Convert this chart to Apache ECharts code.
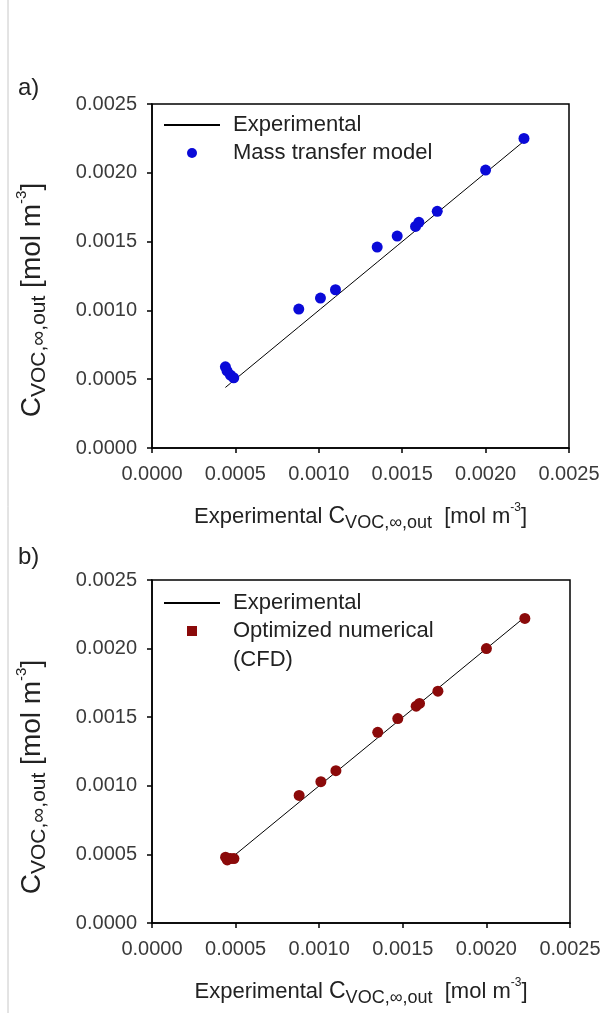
<!DOCTYPE html>
<html>
<head>
<meta charset="utf-8">
<script src="https://cdn.jsdelivr.net/npm/echarts@6/dist/echarts.min.js"></script>
<style>
  html, body { margin: 0; padding: 0; background: #fff; }
  #chart { width: 613px; height: 1013px; }
</style>
</head>
<body>
<div id="chart"></div>
<script>
// ---- data ----
const experimental = [0.00044, 0.00045, 0.00047, 0.00049, 0.00088, 0.00101, 0.00110, 0.00135, 0.00147, 0.00158, 0.00160, 0.00171, 0.00200, 0.00223];
const massTransfer = [0.00059, 0.00056, 0.00053, 0.00051, 0.00101, 0.00109, 0.00115, 0.00146, 0.00154, 0.00161, 0.00164, 0.00172, 0.00202, 0.00225];
const cfd          = [0.00048, 0.00046, 0.00047, 0.00047, 0.00093, 0.00103, 0.00111, 0.00139, 0.00149, 0.00158, 0.00160, 0.00169, 0.00200, 0.00222];
const axisMin = 0, axisMax = 0.0025, axisStep = 0.0005;
const panelLabels = ['a)', 'b)'];
const seriesNames = ['Experimental', 'Mass transfer model', 'Optimized numerical (CFD)'];
const legendLines = { 'Optimized numerical (CFD)': ['Optimized numerical', '(CFD)'] };

const FONT = 'Liberation Sans, Arial, sans-serif';
const pair = (xs, ys) => xs.map((x, i) => [x, ys[i]]);

const richX = {
  a: { fontFamily: FONT, fontSize: 22, lineHeight: 30, color: '#222', fill: '#222' },
  c: { fontFamily: FONT, fontSize: 23, lineHeight: 30, color: '#222', fill: '#222' },
  s: { fontFamily: FONT, fontSize: 18, verticalAlign: 'bottom', color: '#222', fill: '#222' },
  p: { fontFamily: FONT, fontSize: 12, verticalAlign: 'top', color: '#222', fill: '#222' }
};
const richY = {
  a: { fontFamily: FONT, fontSize: 28, lineHeight: 36, fill: '#222' },
  c: { fontFamily: FONT, fontSize: 28, lineHeight: 36, fill: '#222' },
  s: { fontFamily: FONT, fontSize: 21, verticalAlign: 'bottom', fill: '#222' },
  p: { fontFamily: FONT, fontSize: 15, verticalAlign: 'top', fill: '#222' }
};
const xTitle = '{a|Experimental }{c|C}{s|VOC,∞,out}{a|  [mol m}{p|-3}{a|]}';
const yTitle = '{c|C}{s|VOC,∞,out}{a| [mol m}{p|-3}{a|]}';

function valueAxis(gridIndex, isX) {
  const ax = {
    type: 'value', gridIndex, min: axisMin, max: axisMax, interval: axisStep,
    axisLine: { show: true, lineStyle: { color: '#000', width: 1.5 } },
    axisTick: { show: true, inside: false, length: 5, lineStyle: { color: '#000', width: 1.5 } },
    splitLine: { show: false },
    axisLabel: {
      formatter: v => v.toFixed(4), fontFamily: FONT, fontSize: 20, color: '#3a3a3a',
      margin: isX ? 16 : 15
    }
  };
  if (isX) {
    ax.name = xTitle; ax.nameLocation = 'middle'; ax.nameGap = 54;
    ax.nameTextStyle = { fontFamily: FONT, color: '#222', rich: richX };
  }
  return ax;
}

function legendFor(top, names) {
  return {
    orient: 'vertical', left: 164, top, padding: 0, itemWidth: 56, itemHeight: 10, itemGap: 0,
    textStyle: { fontFamily: FONT, fontSize: 22, lineHeight: 28, color: '#222', padding: [0, 0, 0, 8] },
    formatter: n => (legendLines[n] ? legendLines[n][0] : n),
    data: names
  };
}
const lineIcon = 'path://M0,0L56,0L56,2L0,2Z';
const squareIcon = 'path://M0,0L10,0L10,10L0,10Z';

const option = {
  animation: false,
  textStyle: { fontFamily: FONT },
  grid: [
    { left: 152, top: 104, width: 417, height: 344, show: true, borderColor: '#000', borderWidth: 1.5, backgroundColor: 'transparent' },
    { left: 152, top: 580, width: 418, height: 343, show: true, borderColor: '#000', borderWidth: 1.5, backgroundColor: 'transparent' }
  ],
  xAxis: [valueAxis(0, true), valueAxis(1, true)],
  yAxis: [valueAxis(0, false), valueAxis(1, false)],
  legend: [
    legendFor(111, [{ name: seriesNames[0], icon: lineIcon }, { name: seriesNames[1], icon: 'circle' }]),
    legendFor(589, [{ name: seriesNames[0], icon: lineIcon }, { name: seriesNames[2], icon: squareIcon }])
  ],
  series: [
    { name: seriesNames[0], type: 'line', xAxisIndex: 0, yAxisIndex: 0, data: pair(experimental, experimental),
      symbol: 'none', lineStyle: { color: '#000', width: 1 }, itemStyle: { color: '#000' }, z: 2 },
    { name: seriesNames[1], type: 'scatter', xAxisIndex: 0, yAxisIndex: 0, data: pair(experimental, massTransfer),
      symbol: 'circle', symbolSize: 11, itemStyle: { color: '#0a0ad8', opacity: 1 }, z: 3 },
    { name: seriesNames[0], type: 'line', xAxisIndex: 1, yAxisIndex: 1, data: pair(experimental, experimental),
      symbol: 'none', lineStyle: { color: '#000', width: 1 }, itemStyle: { color: '#000' }, z: 2 },
    { name: seriesNames[2], type: 'scatter', xAxisIndex: 1, yAxisIndex: 1, data: pair(experimental, cfd),
      symbol: 'circle', symbolSize: 11, itemStyle: { color: '#8b0a0a', opacity: 1 }, z: 3 }
  ],
  graphic: [
    { type: 'line', shape: { x1: 8, y1: 0, x2: 8, y2: 1013 }, style: { stroke: '#c8c8c8', lineWidth: 1 } },
    { type: 'text', x: 18, y: 88, style: { text: panelLabels[0], fontFamily: FONT, fontSize: 24, fill: '#222', align: 'left', verticalAlign: 'middle' } },
    { type: 'text', x: 18, y: 557, style: { text: panelLabels[1], fontFamily: FONT, fontSize: 24, fill: '#222', align: 'left', verticalAlign: 'middle' } },
    { type: 'text', x: 233, y: 660, style: { text: legendLines[seriesNames[2]][1], fontFamily: FONT, fontSize: 22, fill: '#222', align: 'left', verticalAlign: 'middle' } },
    { type: 'text', x: 32, y: 300, rotation: Math.PI / 2,
      style: { text: yTitle, rich: richY, fontFamily: FONT, fill: '#222', align: 'center', verticalAlign: 'middle' } },
    { type: 'text', x: 32, y: 777, rotation: Math.PI / 2,
      style: { text: yTitle, rich: richY, fontFamily: FONT, fill: '#222', align: 'center', verticalAlign: 'middle' } }
  ]
};

const chart = echarts.init(document.getElementById('chart'), null, { renderer: 'canvas' });
chart.setOption(option);
</script>
</body>
</html>
